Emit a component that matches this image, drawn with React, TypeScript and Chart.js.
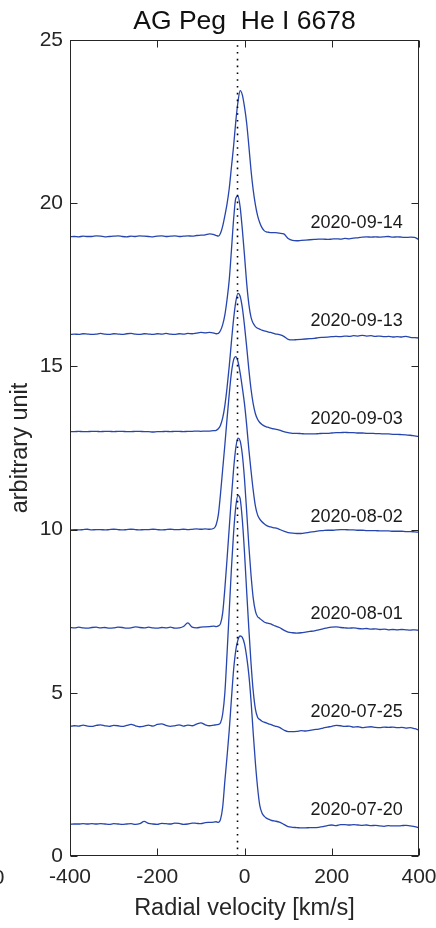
import { useEffect, useRef } from "react";
import { Chart, registerables } from "chart.js";

Chart.register(...registerables);

const TITLE = "AG Peg  He I 6678";
const X_TITLE = "Radial velocity [km/s]";
const Y_TITLE = "arbitrary unit";

// Radial velocity grid (km/s): 10 km/s in the wings, 5 km/s across the line core
const VELOCITY = [
  -400, -390, -380, -370, -360, -350, -340, -330, -320, -310,
  -300, -290, -280, -270, -260, -250, -240, -230, -220, -210,
  -200, -190, -180, -170, -160, -150, -140, -130, -120, -110,
  -100, -90, -80, -70,
  -65, -60, -55, -50, -45, -40, -35, -30, -25, -20, -15, -10, -5, 0,
  5, 10, 15, 20, 25, 30, 35, 40, 45, 50, 55, 60, 65,
  70, 80, 90, 100, 110, 120, 130, 140, 150, 160, 170, 180, 190, 200,
  210, 220, 230, 240, 250, 260, 270, 280, 290, 300,
  310, 320, 330, 340, 350, 360, 370, 380, 390, 400,
];

// Observation dates, bottom to top, and the vertical shift applied to each spectrum
const DATES = ["2020-07-20", "2020-07-25", "2020-08-01", "2020-08-02", "2020-09-03", "2020-09-13", "2020-09-14"];
const OFFSETS = [0, 3, 6, 9, 12, 15, 18];

// Normalised He I 6678 flux on the VELOCITY grid
const FLUX_0720 = [
  0.97, 0.98, 0.98, 0.99, 0.98, 0.99, 0.98, 0.99, 0.98, 0.97,
  0.99, 0.98, 0.97, 0.98, 0.99, 0.97, 0.99, 1.06, 1.00, 0.98,
  0.97, 1.00, 0.99, 0.98, 1.01, 1.00, 0.97, 0.98, 1.01, 1.00,
  0.99, 1.02, 1.03, 1.04,
  1.05, 1.03, 1.12, 1.50, 2.30, 3.05, 3.85, 4.80, 5.70, 6.30, 6.62, 6.74, 6.70, 6.50,
  6.10, 5.55, 4.75, 3.76, 2.85, 2.10, 1.55, 1.32, 1.22, 1.16, 1.13, 1.10, 1.08,
  1.07, 1.04, 0.97, 0.90, 0.88, 0.87, 0.86, 0.86, 0.87, 0.87, 0.88, 0.90, 0.93, 0.95,
  0.93, 0.96, 0.96, 0.95, 0.96, 0.95, 0.94, 0.95, 0.93, 0.94,
  0.92, 0.91, 0.93, 0.92, 0.92, 0.93, 0.94, 0.92, 0.90, 0.86,
];
const FLUX_0725 = [
  0.97, 0.99, 0.98, 1.01, 0.98, 0.97, 1.00, 1.02, 0.99, 0.97,
  1.00, 0.99, 0.97, 1.00, 1.03, 0.99, 0.96, 0.98, 1.01, 0.98,
  1.03, 1.05, 1.00, 0.97, 0.99, 1.02, 0.98, 1.01, 0.99, 1.04,
  1.08, 1.02, 0.99, 1.01,
  1.02, 1.03, 1.08, 1.35, 2.00, 3.20, 4.50, 5.80, 6.90, 7.70, 8.05, 7.95, 7.30, 6.30,
  5.10, 3.95, 2.90, 2.05, 1.50, 1.25, 1.18, 1.13, 1.10, 1.08, 1.05, 1.03, 1.00,
  0.98, 0.94, 0.86, 0.81, 0.81, 0.82, 0.84, 0.83, 0.85, 0.87, 0.89, 0.92, 0.95, 0.97,
  1.00, 0.99, 0.97, 0.98, 0.95, 0.96, 0.93, 0.95, 0.96, 0.94,
  0.93, 0.95, 0.94, 0.95, 0.93, 0.94, 0.92, 0.93, 0.90, 0.86,
];
const FLUX_0801 = [
  1.00, 0.99, 1.01, 0.99, 0.98, 1.00, 1.01, 0.99, 1.00, 0.98,
  0.99, 1.01, 1.00, 0.98, 0.99, 1.02, 1.00, 0.99, 1.01, 0.99,
  0.98, 1.00, 0.99, 1.01, 0.98, 0.99, 1.03, 1.14, 1.01, 0.99,
  1.01, 1.02, 1.03, 1.04,
  1.03, 1.05, 1.12, 1.45, 2.20, 3.10, 4.05, 5.00, 5.85, 6.50, 6.80, 6.72, 6.30, 5.55,
  4.55, 3.50, 2.60, 1.90, 1.50, 1.33, 1.28, 1.22, 1.17, 1.14, 1.13, 1.11, 1.08,
  1.05, 1.00, 0.92, 0.86, 0.84, 0.83, 0.84, 0.86, 0.88, 0.90, 0.93, 0.96, 0.99, 1.01,
  1.02, 1.00, 0.99, 0.98, 0.99, 0.97, 0.96, 0.97, 0.95, 0.96,
  0.94, 0.95, 0.93, 0.94, 0.93, 0.94, 0.93, 0.92, 0.93, 0.91,
];
const FLUX_0802 = [
  0.99, 1.00, 0.99, 1.00, 1.01, 0.99, 1.00, 1.00, 0.99, 1.00,
  1.01, 1.00, 0.99, 1.00, 1.01, 1.00, 0.99, 1.00, 1.00, 1.01,
  1.00, 0.99, 1.00, 1.01, 1.00, 1.00, 1.01, 1.00, 1.01, 1.02,
  1.01, 1.02, 1.01, 1.04,
  1.15, 1.45, 2.10, 2.85, 3.60, 4.40, 5.15, 5.80, 6.20, 6.30, 6.15, 5.80, 5.35, 4.85,
  4.20, 3.45, 2.80, 2.20, 1.72, 1.45, 1.32, 1.24, 1.18, 1.13, 1.10, 1.08, 1.06,
  1.05, 1.01, 0.95, 0.91, 0.89, 0.88, 0.88, 0.90, 0.92, 0.94, 0.96, 0.97, 0.98, 0.98,
  0.99, 1.00, 1.00, 0.99, 0.99, 0.98, 0.98, 0.97, 0.97, 0.97,
  0.96, 0.96, 0.96, 0.95, 0.95, 0.95, 0.94, 0.94, 0.93, 0.92,
];
const FLUX_0903 = [
  1.00, 1.00, 1.01, 1.00, 1.00, 1.01, 1.01, 1.00, 1.01, 1.01,
  1.00, 1.01, 1.01, 1.00, 1.00, 1.01, 1.01, 1.00, 1.00, 0.99,
  1.00, 1.00, 1.01, 1.00, 1.01, 1.01, 1.00, 1.01, 1.01, 1.02,
  1.01, 1.02, 1.02, 1.03,
  1.04, 1.09, 1.20, 1.42, 1.80, 2.35, 3.00, 3.75, 4.45, 4.98, 5.24, 5.15, 4.80, 4.25,
  3.60, 2.90, 2.30, 1.85, 1.55, 1.38, 1.28, 1.22, 1.18, 1.15, 1.13, 1.11, 1.09,
  1.08, 1.05, 1.00, 0.97, 0.95, 0.95, 0.94, 0.93, 0.93, 0.93, 0.94, 0.95, 0.95, 0.96,
  0.97, 0.97, 0.98, 0.97, 0.97, 0.96, 0.96, 0.95, 0.95, 0.94,
  0.94, 0.93, 0.93, 0.92, 0.92, 0.91, 0.90, 0.89, 0.87, 0.85,
];
const FLUX_0913 = [
  0.98, 0.99, 0.98, 1.00, 0.99, 0.98, 0.99, 1.01, 0.99, 0.98,
  1.00, 0.99, 0.98, 1.00, 1.01, 0.99, 0.98, 1.00, 0.99, 0.98,
  1.00, 0.99, 1.01, 0.99, 0.98, 1.00, 0.99, 1.01, 1.00, 1.02,
  1.04, 1.03, 1.04, 1.02,
  1.00, 1.01, 1.10, 1.28, 1.58, 2.05, 2.65, 3.55, 4.50, 5.15, 5.22, 4.88, 4.20, 3.40,
  2.55, 1.90, 1.50, 1.32, 1.22, 1.17, 1.14, 1.11, 1.09, 1.07, 1.05, 1.04, 1.02,
  1.00, 0.97, 0.92, 0.83, 0.81, 0.82, 0.83, 0.84, 0.85, 0.86, 0.88, 0.89, 0.90, 0.91,
  0.92, 0.91, 0.93, 0.92, 0.94, 0.93, 0.95, 0.93, 0.94, 0.92,
  0.93, 0.91, 0.92, 0.90, 0.91, 0.90, 0.92, 0.89, 0.88, 0.87,
];
const FLUX_0914 = [
  0.97, 0.98, 0.97, 0.99, 0.98, 0.98, 1.00, 0.99, 0.97, 0.98,
  0.99, 1.00, 0.98, 0.97, 0.99, 0.98, 1.00, 0.99, 0.98, 0.97,
  0.99, 1.00, 0.98, 0.99, 1.00, 0.98, 0.99, 1.00, 0.99, 1.01,
  1.02, 1.03, 1.06, 1.04,
  1.01, 0.99, 1.08, 1.30, 1.62, 1.98, 2.45, 3.10, 3.75, 4.50, 5.10, 5.45, 5.32, 4.95,
  4.45, 3.75, 3.00, 2.40, 1.95, 1.62, 1.40, 1.25, 1.16, 1.12, 1.11, 1.10, 1.10,
  1.10, 1.08, 1.06, 0.92, 0.86, 0.85, 0.86, 0.87, 0.88, 0.89, 0.90, 0.90, 0.89, 0.90,
  0.91, 0.90, 0.92, 0.91, 0.93, 0.94, 0.96, 0.97, 0.96, 0.97,
  0.96, 0.97, 0.98, 0.96, 0.97, 0.96, 0.95, 0.96, 0.95, 0.88,
];
const SPECTRA = [FLUX_0720, FLUX_0725, FLUX_0801, FLUX_0802, FLUX_0903, FLUX_0913, FLUX_0914];

// Systemic velocity marker and axis limits
const SYSTEMIC_V = -16;
const X_MIN = -400, X_MAX = 400, X_STEP = 200;
const Y_MIN = 0, Y_MAX = 25, Y_STEP = 5;
const DATE_LABEL_V = 257;
const DATE_LABEL_RISE = 1.4;

const FONT = '"Liberation Sans", Arial, Helvetica, sans-serif';
const AXIS_COLOR = "#262626";
const LINE_COLOR = "#2645ae";
const TICK_LEN = 7;

const framePlugin = {
  id: "frame",
  afterDraw(chart: any) {
    const { ctx, chartArea: a, scales } = chart;
    const xs = scales.x;
    const ys = scales.y;
    ctx.save();
    // Box and inward ticks on all four sides
    const L = Math.round(a.left) + 0.5;
    const R = Math.round(a.right) - 0.5;
    const T = Math.round(a.top) + 0.5;
    const B = Math.round(a.bottom) - 0.5;
    ctx.strokeStyle = AXIS_COLOR;
    ctx.lineWidth = 1;
    ctx.strokeRect(L, T, R - L, B - T);
    ctx.beginPath();
    xs.ticks.forEach((t: any) => {
      const px = Math.round(xs.getPixelForValue(t.value)) + 0.5;
      ctx.moveTo(px, B);
      ctx.lineTo(px, B - TICK_LEN);
      ctx.moveTo(px, T);
      ctx.lineTo(px, T + TICK_LEN);
    });
    ys.ticks.forEach((t: any) => {
      const py = Math.round(ys.getPixelForValue(t.value)) + 0.5;
      ctx.moveTo(L, py);
      ctx.lineTo(L + TICK_LEN, py);
      ctx.moveTo(R, py);
      ctx.lineTo(R - TICK_LEN, py);
    });
    ctx.stroke();

    // Date of each spectrum, just above its continuum
    ctx.fillStyle = "#1a1a1a";
    ctx.font = `18px ${FONT}`;
    ctx.textAlign = "center";
    ctx.textBaseline = "middle";
    DATES.forEach((d, i) => {
      ctx.fillText(d, xs.getPixelForValue(DATE_LABEL_V), ys.getPixelForValue(OFFSETS[i] + DATE_LABEL_RISE));
    });

    // Edge of a neighbouring panel's tick label
    ctx.fillStyle = AXIS_COLOR;
    ctx.font = `21px ${FONT}`;
    ctx.fillText("0", -1.5, ys.getPixelForValue(0) + 22);
    ctx.restore();
  },
};

export default function App() {
  const ref = useRef<HTMLCanvasElement | null>(null);

  useEffect(() => {
    if (!ref.current) return;
    const datasets: any[] = [
      {
        label: "systemic",
        data: [
          { x: SYSTEMIC_V, y: Y_MIN },
          { x: SYSTEMIC_V, y: Y_MAX },
        ],
        borderColor: "#000",
        borderWidth: 1.6,
        borderDash: [1.6, 5.2],
        pointRadius: 0,
        order: 0,
      },
      ...SPECTRA.map((flux, i) => ({
        label: DATES[i],
        data: VELOCITY.map((v, k) => ({ x: v, y: flux[k] + OFFSETS[i] })),
        borderColor: LINE_COLOR,
        borderWidth: 1.3,
        pointRadius: 0,
        cubicInterpolationMode: "monotone",
        order: 1,
      })),
    ];

    const chart = new Chart(ref.current, {
      type: "line",
      data: { datasets },
      plugins: [framePlugin],
      options: {
        animation: false,
        responsive: false,
        devicePixelRatio: 1,
        layout: { padding: { top: 0, right: 17, bottom: 0, left: 0 } },
        plugins: {
          legend: { display: false },
          tooltip: { enabled: false },
          title: {
            display: true,
            fullSize: false,
            text: TITLE,
            color: "#111",
            font: { family: FONT, size: 26.5, weight: "normal" },
            padding: { top: 6.2, bottom: 2.0 },
          },
        },
        scales: {
          x: {
            type: "linear",
            min: X_MIN,
            max: X_MAX,
            grid: { display: false, drawTicks: false },
            border: { display: false },
            ticks: {
              stepSize: X_STEP,
              color: AXIS_COLOR,
              padding: 9,
              maxRotation: 0,
              font: { family: FONT, size: 21 },
            },
            title: {
              display: true,
              text: X_TITLE,
              color: AXIS_COLOR,
              font: { family: FONT, size: 23.5 },
              padding: { top: 0, bottom: 5 },
            },
            afterFit: (s: any) => {
              s.height = 72;
              s.paddingLeft = 0;
              s.paddingRight = 0;
            },
          },
          y: {
            type: "linear",
            min: Y_MIN,
            max: Y_MAX,
            grid: { display: false, drawTicks: false },
            border: { display: false },
            ticks: {
              stepSize: Y_STEP,
              color: AXIS_COLOR,
              padding: 7,
              font: { family: FONT, size: 21 },
            },
            title: {
              display: true,
              text: Y_TITLE,
              color: AXIS_COLOR,
              font: { family: FONT, size: 23.5 },
              padding: { top: 6, bottom: 0 },
            },
            afterFit: (s: any) => {
              s.width = 70;
              s.paddingTop = 0;
              s.paddingBottom = 0;
            },
          },
        },
      },
    });
    return () => chart.destroy();
  }, []);

  return (
    <div style={{ position: "fixed", left: 0, top: 0, width: 436, height: 928, background: "#fff" }}>
      <canvas ref={ref} width={436} height={928} style={{ display: "block" }} />
    </div>
  );
}
